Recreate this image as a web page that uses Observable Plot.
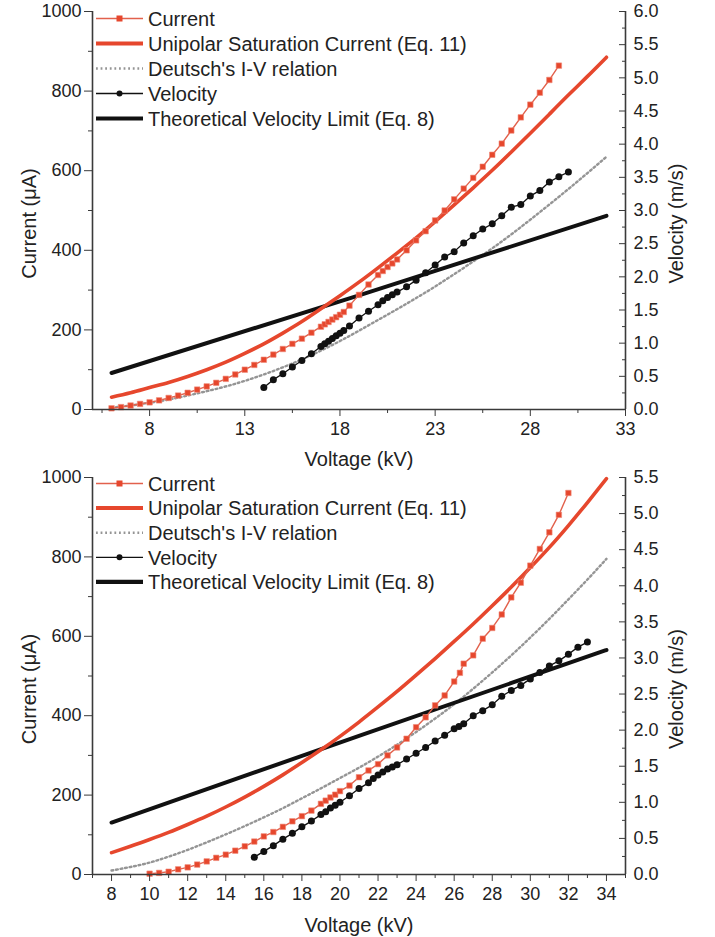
<!DOCTYPE html>
<html><head><meta charset="utf-8">
<script src="https://cdn.jsdelivr.net/npm/d3@7"></script>
<script src="https://cdn.jsdelivr.net/npm/@observablehq/plot@0.6"></script>
<style>
body{margin:0;background:#fff;font-family:"Liberation Sans",Arial,sans-serif;}
.panel{position:relative;width:715px;}
.panel svg{display:block;}
.panel svg.legend{position:absolute;left:0;top:0;}
</style></head><body><div id="chart"></div>
<script>
// ---------- shared labels ----------
const seriesNames = ["Current", "Unipolar Saturation Current (Eq. 11)", "Deutsch's I-V relation", "Velocity", "Theoretical Velocity Limit (Eq. 8)"];
const xTitle = "Voltage (kV)";
const yLeftTitle = "Current (μA)";
const yRightTitle = "Velocity (m/s)";
const currentTicks = [0, 200, 400, 600, 800, 1000];
const currentMinorTicks = [100, 300, 500, 700, 900];

// ---------- top panel data ----------
const topXDomain = [5, 33];
const topXTicks = [8, 13, 18, 23, 28, 33];
const topXMinorTicks = [5.5, 10.5, 15.5, 20.5, 25.5, 30.5];
const topVelMax = 6.0;
const topVelTicks = [0, 0.5, 1, 1.5, 2, 2.5, 3, 3.5, 4, 4.5, 5, 5.5, 6];
const topVelMinorTicks = [0.25, 0.75, 1.25, 1.75, 2.25, 2.75, 3.25, 3.75, 4.25, 4.75, 5.25, 5.75];

const topCurrentKV = [6, 6.5, 7, 7.5, 8, 8.5, 9, 9.5, 10, 10.5, 11, 11.5, 12, 12.5, 13, 13.5, 14, 14.5, 15, 15.5, 16, 16.5, 17, 17.2, 17.4, 17.6, 17.8, 18, 18.2, 18.5, 19, 19.5, 20, 20.25, 20.5, 20.75, 21, 21.5, 22, 22.5, 23, 23.5, 24, 24.5, 25, 25.5, 26, 26.5, 27, 27.5, 28, 28.5, 29, 29.5];
const topCurrentUA = [3, 6, 10, 14, 18, 23, 29, 35, 42, 50, 58, 67, 77, 88, 100, 112, 125, 138, 152, 165, 178, 193, 208, 214, 220, 226, 232, 238, 245, 261, 288, 314, 338, 348, 358, 367, 377, 400, 425, 448, 475, 500, 528, 555, 582, 610, 640, 668, 701, 734, 766, 796, 828, 864];

const topUnipolarKV = [6, 7, 8, 9, 10, 11, 12, 13, 14, 15, 16, 17, 18, 19, 20, 21, 22, 23, 24, 25, 26, 27, 28, 29, 30, 31, 32];
const topUnipolarUA = [31, 42, 55, 68, 83, 100, 119, 141, 165, 192, 221, 253, 286, 320, 356, 393, 431, 472, 514, 557, 601, 647, 694, 742, 790, 837, 885];

const topDeutschKV = [6, 7, 8, 9, 10, 11, 12, 13, 14, 15, 16, 17, 18, 19, 20, 21, 22, 23, 24, 25, 26, 27, 28, 29, 30, 31, 32];
const topDeutschUA = [5, 10, 17, 25, 35, 46, 58, 72, 88, 106, 126, 148, 172, 198, 225, 252, 280, 309, 340, 372, 405, 440, 477, 515, 554, 594, 635];

const topVelocityKV = [14, 14.5, 15, 15.5, 16, 16.5, 17, 17.2, 17.4, 17.6, 17.8, 18, 18.2, 18.5, 19, 19.5, 20, 20.25, 20.5, 20.75, 21, 21.5, 22, 22.5, 23, 23.5, 24, 24.5, 25, 25.5, 26, 26.5, 27, 27.5, 28, 28.5, 29, 29.5, 30];
const topVelocityMS = [0.33, 0.45, 0.54, 0.64, 0.74, 0.84, 0.95, 0.99, 1.03, 1.07, 1.11, 1.15, 1.19, 1.26, 1.38, 1.48, 1.58, 1.64, 1.69, 1.73, 1.77, 1.85, 1.95, 2.06, 2.18, 2.30, 2.38, 2.51, 2.62, 2.72, 2.80, 2.92, 3.05, 3.09, 3.22, 3.30, 3.43, 3.51, 3.58];

const topTheoryKV = [6, 19, 32];
const topTheoryMS = [0.55, 1.72, 2.92];

// ---------- bottom panel data ----------
const botXDomain = [7, 35];
const botXTicks = [8, 10, 12, 14, 16, 18, 20, 22, 24, 26, 28, 30, 32, 34];
const botXMinorTicks = [7, 9, 11, 13, 15, 17, 19, 21, 23, 25, 27, 29, 31, 33, 35];
const botVelMax = 5.5;
const botVelTicks = [0, 0.5, 1, 1.5, 2, 2.5, 3, 3.5, 4, 4.5, 5, 5.5];
const botVelMinorTicks = [0.25, 0.75, 1.25, 1.75, 2.25, 2.75, 3.25, 3.75, 4.25, 4.75, 5.25];

const botCurrentKV = [10, 10.5, 11, 11.5, 12, 12.5, 13, 13.5, 14, 14.5, 15, 15.5, 16, 16.5, 17, 17.5, 18, 18.5, 19, 19.25, 19.5, 19.75, 20, 20.5, 21, 21.5, 22, 22.5, 23, 23.5, 24, 24.5, 25, 25.5, 26, 26.3, 26.5, 27, 27.5, 28, 28.5, 29, 29.5, 30, 30.5, 31, 31.5, 32];
const botCurrentUA = [2, 4, 7, 13, 18, 25, 33, 42, 50, 60, 71, 83, 96, 107, 120, 134, 147, 161, 178, 186, 194, 201, 210, 224, 245, 262, 278, 300, 320, 342, 371, 396, 426, 451, 486, 508, 531, 552, 594, 621, 655, 698, 735, 778, 820, 862, 906, 961];

const botUnipolarKV = [8, 9, 10, 11, 12, 13, 14, 15, 16, 17, 18, 19, 20, 21, 22, 23, 24, 25, 26, 27, 28, 29, 30, 31, 32, 33, 34];
const botUnipolarUA = [55, 71, 88, 106, 126, 147, 170, 195, 222, 251, 282, 314, 348, 384, 422, 461, 502, 544, 587, 631, 677, 724, 773, 824, 879, 937, 997];

const botDeutschKV = [8, 9, 10, 11, 12, 13, 14, 15, 16, 17, 18, 19, 20, 21, 22, 23, 24, 25, 26, 27, 28, 29, 30, 31, 32, 33, 34];
const botDeutschUA = [10, 19, 30, 45, 62, 81, 101, 122, 144, 167, 192, 217, 243, 269, 297, 327, 359, 393, 429, 468, 509, 552, 597, 644, 693, 743, 795];

const botVelocityKV = [15.5, 16, 16.5, 17, 17.5, 18, 18.5, 19, 19.25, 19.5, 19.75, 20, 20.5, 21, 21.5, 21.75, 22, 22.25, 22.5, 22.75, 23, 23.5, 24, 24.5, 25, 25.5, 26, 26.25, 26.5, 27, 27.5, 28, 28.5, 29, 29.5, 30, 30.5, 31, 31.5, 32, 32.5, 33];
const botVelocityMS = [0.24, 0.32, 0.40, 0.49, 0.57, 0.66, 0.74, 0.83, 0.87, 0.92, 0.96, 1.00, 1.09, 1.19, 1.27, 1.33, 1.38, 1.42, 1.46, 1.49, 1.52, 1.60, 1.68, 1.76, 1.85, 1.93, 2.02, 2.05, 2.09, 2.20, 2.27, 2.35, 2.47, 2.55, 2.62, 2.71, 2.80, 2.89, 2.96, 3.05, 3.15, 3.22];

const botTheoryKV = [8, 21, 34];
const botTheoryMS = [0.72, 1.92, 3.11];

// ---------- drawing ----------
const RED = "#e6472d";
const RED_LINE = "#e2614c";
const GRAY = "#959595";
const INK = "#111";
const AXIS = "#3a3a3a";
const FONT = "'Liberation Sans', Arial, sans-serif";

const zip = (xs, ys) => xs.map((x, i) => ({x, y: ys[i]}));

function panel(cfg) {
  const k = 1000 / cfg.velMax;   // velocity -> current-scale factor
  const cur = zip(cfg.curKV, cfg.curUA);
  const uni = zip(cfg.uniKV, cfg.uniUA);
  const deu = zip(cfg.deuKV, cfg.deuUA);
  const vel = zip(cfg.velKV, cfg.velMS);
  const the = zip(cfg.theKV, cfg.theMS);
  const yv = d => d.y * k;

  const plot = Plot.plot({
    width: 715, height: cfg.height,
    marginLeft: 92, marginRight: 90, marginTop: cfg.mt, marginBottom: cfg.mb,
    style: {fontFamily: FONT, fontSize: "18px", color: "#222", background: "white", overflow: "visible"},
    x: {domain: cfg.xDomain},
    y: {domain: [0, 1000]},
    marks: [
      Plot.line(deu, {x: "x", y: "y", curve: "natural", stroke: GRAY, strokeWidth: 2.4, strokeDasharray: "1.8,2.8"}),
      Plot.line(the, {x: "x", y: yv, curve: "natural", stroke: INK, strokeWidth: 4}),
      Plot.line(uni, {x: "x", y: "y", curve: "natural", stroke: RED, strokeWidth: 3.6}),
      Plot.line(cur, {x: "x", y: "y", stroke: RED_LINE, strokeWidth: 1.4}),
      Plot.dot(cur, {x: "x", y: "y", symbol: "square", r: 3.1, fill: RED, stroke: "#f08a78", strokeWidth: 0.6}),
      Plot.line(vel, {x: "x", y: yv, stroke: INK, strokeWidth: 1.3}),
      Plot.dot(vel, {x: "x", y: yv, r: 3.5, fill: INK}),
      // axes
      Plot.axisX({ticks: cfg.xTicks, tickSize: 7, tickPadding: 6, label: null, fontSize: 18, stroke: AXIS, fill: "#222"}),
      Plot.axisX({ticks: cfg.xMinor, tickSize: 4, tickFormat: () => "", label: null, stroke: AXIS}),
      Plot.axisY({anchor: "left", ticks: currentTicks, tickSize: 8, tickPadding: 3, tickFormat: d => String(d), label: null, fontSize: 18, stroke: AXIS, fill: "#222"}),
      Plot.axisY({anchor: "left", ticks: currentMinorTicks, tickSize: 4, tickFormat: () => "", label: null, stroke: AXIS}),
      Plot.axisY({anchor: "right", ticks: cfg.velTicks.map(v => v * k), tickSize: -7, tickPadding: 15,
        tickFormat: d => (d / k).toFixed(1), label: null, fontSize: 18, stroke: AXIS, fill: "#222"}),
      Plot.axisY({anchor: "right", ticks: cfg.velMinor.map(v => v * k), tickSize: -4, tickFormat: () => "", label: null, stroke: AXIS}),
      Plot.ruleX([cfg.xDomain[0]], {stroke: AXIS, strokeWidth: 1.6}),
      Plot.ruleX([cfg.xDomain[1]], {stroke: AXIS, strokeWidth: 1.6}),
      Plot.ruleY([0], {stroke: AXIS, strokeWidth: 1.6}),
      // titles
      Plot.text([xTitle], {frameAnchor: "bottom", dy: cfg.xTitleDy, fontSize: 20, fill: "#222"}),
      Plot.text([yLeftTitle], {frameAnchor: "left", textAnchor: "middle", lineAnchor: "middle", dx: -63, dy: 13, rotate: -90, fontSize: 20, fill: "#222"}),
      Plot.text([yRightTitle], {frameAnchor: "right", textAnchor: "middle", lineAnchor: "middle", dx: 51, dy: 13, rotate: -90, fontSize: 20, fill: "#222"})
    ]
  });

  const wrap = document.createElement("div");
  wrap.className = "panel";
  wrap.style.height = cfg.height + "px";
  wrap.appendChild(plot);

  // in-plot legend
  const lg = d3.create("svg").attr("class", "legend").attr("width", 715).attr("height", cfg.height)
    .style("font-family", FONT).style("overflow", "visible");
  const styles = [
    {stroke: RED_LINE, w: 1.4, mark: "square"},
    {stroke: RED, w: 4},
    {stroke: GRAY, w: 2.4, dash: "1.8,2.8"},
    {stroke: INK, w: 1.3, mark: "circle"},
    {stroke: INK, w: 4.2}
  ];
  seriesNames.forEach((name, i) => {
    const y = cfg.legendTop + i * cfg.legendStep;
    const g = lg.append("g").attr("transform", `translate(0,${y})`);
    const s = styles[i];
    g.append("line").attr("x1", 96).attr("x2", 143).attr("y1", 0).attr("y2", 0)
      .attr("stroke", s.stroke).attr("stroke-width", s.w).attr("stroke-dasharray", s.dash || null);
    if (s.mark === "square") g.append("rect").attr("x", 116.5).attr("y", -3).attr("width", 6).attr("height", 6).attr("fill", RED);
    if (s.mark === "circle") g.append("circle").attr("cx", 119.5).attr("cy", 0).attr("r", 3).attr("fill", INK);
    g.append("text").attr("x", 148).attr("y", 0).attr("dy", "0.36em").attr("font-size", 20).attr("fill", "#222").text(name);
  });
  wrap.appendChild(lg.node());
  return wrap;
}

const root = document.getElementById("chart");
root.appendChild(panel({
  height: 470, mt: 11, mb: 61, xTitleDy: 56,
  xDomain: topXDomain, xTicks: topXTicks, xMinor: topXMinorTicks,
  velMax: topVelMax, velTicks: topVelTicks, velMinor: topVelMinorTicks,
  curKV: topCurrentKV, curUA: topCurrentUA,
  uniKV: topUnipolarKV, uniUA: topUnipolarUA,
  deuKV: topDeutschKV, deuUA: topDeutschUA,
  velKV: topVelocityKV, velMS: topVelocityMS,
  theKV: topTheoryKV, theMS: topTheoryMS,
  legendTop: 18.5, legendStep: 25
}));
root.appendChild(panel({
  height: 467, mt: 7, mb: 63, xTitleDy: 57,
  xDomain: botXDomain, xTicks: botXTicks, xMinor: botXMinorTicks,
  velMax: botVelMax, velTicks: botVelTicks, velMinor: botVelMinorTicks,
  curKV: botCurrentKV, curUA: botCurrentUA,
  uniKV: botUnipolarKV, uniUA: botUnipolarUA,
  deuKV: botDeutschKV, deuUA: botDeutschUA,
  velKV: botVelocityKV, velMS: botVelocityMS,
  theKV: botTheoryKV, theMS: botTheoryMS,
  legendTop: 13.5, legendStep: 24.6
}));
</script></body></html>
